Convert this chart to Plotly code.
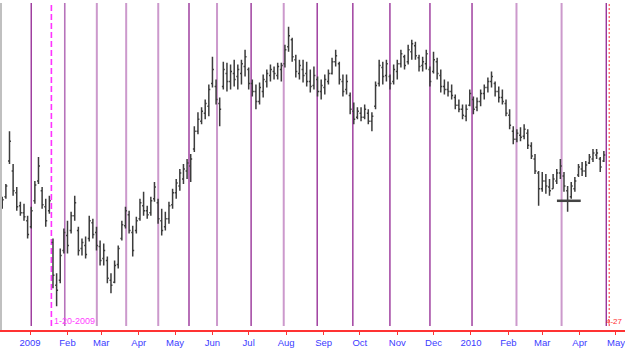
import pandas as pd
import plotly.graph_objects as go

# ---- price bars (every 3 calendar days from the start date) ----
start_date = "2008-12-09"
bar_step = "3D"
high = [134,147,200,167,144,129,127,115,124,150,
        174,144,132,135,92,57,82,102,110,119,
        135,104,92,94,115,112,104,90,87,74,
        57,70,85,110,124,120,105,114,132,139,
        125,134,149,132,122,119,129,142,152,162,
        167,172,177,205,219,224,232,247,275,252,
        234,270,269,267,272,267,272,282,264,252,
        247,249,257,262,267,265,269,269,287,305,
        294,277,272,272,270,262,265,255,252,257,
        262,274,282,270,257,257,239,229,224,224,
        227,222,219,250,272,270,272,257,267,272,
        282,277,287,292,290,277,275,282,265,280,
        274,262,252,250,247,237,232,227,227,242,
        235,234,242,247,254,260,250,245,242,232,
        222,205,202,204,207,202,189,177,160,159,
        157,152,157,162,172,159,145,149,154,167,
        169,170,177,182,182,174,180]
low = [122,132,167,135,120,115,110,92,102,127,
       147,122,104,117,42,24,47,77,77,97,
       110,75,75,72,89,92,80,65,65,47,
       37,47,62,90,102,97,74,97,110,115,
       112,115,129,107,95,100,107,122,132,140,
       147,152,149,179,197,207,212,215,244,227,
       205,242,240,242,245,242,247,255,242,235,
       222,227,234,244,250,252,252,250,264,280,
       270,254,252,249,245,239,242,235,232,237,
       247,257,265,247,235,237,217,207,212,210,
       212,207,200,222,245,247,250,242,247,252,
       264,262,267,272,272,260,260,262,245,258,
       252,239,237,235,232,222,219,212,210,225,
       217,220,225,232,239,244,235,229,227,215,
       202,187,189,190,192,182,172,157,125,139,
       137,135,142,147,152,139,119,132,139,154,
       155,154,167,169,172,159,169]
open_ = [124,134,170,160,138,125,118,110,104,130,
         150,140,124,120,88,45,50,80,95,100,
         115,100,82,85,92,108,98,84,72,70,
         50,48,66,92,105,116,98,100,112,125,
         120,118,132,128,110,104,112,126,138,145,
         152,160,165,182,200,210,218,225,248,245,
         228,245,258,250,258,255,258,265,262,248,
         240,230,240,250,256,260,256,262,268,285,
         292,272,258,262,258,250,246,252,240,244,
         250,258,270,268,250,242,236,220,214,218,
         214,218,210,225,248,264,256,255,250,260,
         268,275,270,280,286,274,266,268,262,260,
         270,256,245,242,240,234,226,222,215,226,
         232,224,230,238,244,250,248,240,234,228,
         216,200,192,196,195,198,185,172,158,142,
         150,144,142,150,158,155,140,134,142,156,
         162,160,168,172,176,172,170]
close = [131,145,190,140,124,118,114,96,120,146,
         165,126,110,130,55,40,75,98,85,115,
         128,80,88,76,110,96,85,70,80,52,
         45,65,82,106,120,100,80,110,128,120,
         116,130,144,112,100,112,125,138,148,158,
         162,168,172,200,212,220,228,242,262,232,
         222,262,250,260,252,262,268,275,248,240,
         230,244,252,258,262,258,265,266,282,296,
         275,260,266,256,250,245,256,240,246,252,
         258,270,276,252,240,250,222,212,220,214,
         222,210,215,246,266,255,268,248,262,268,
         278,266,282,288,276,265,270,278,250,272,
         258,245,242,240,236,226,222,216,222,238,
         222,230,238,244,250,255,240,234,230,218,
         206,192,198,194,202,186,175,160,142,150,
         145,140,152,158,165,145,130,145,150,164,
         160,166,174,178,178,164,176]
dates = pd.date_range(start_date, periods=len(close), freq=bar_step)

# ---- cycle / event lines ----
dark_cycle_dates = ["2009-01-02", "2009-05-12T14:00", "2009-07-03", "2009-08-26T17:00",
                    "2009-09-25T05:00", "2009-10-25T22:00", "2009-11-28T01:00",
                    "2010-01-01T21:00", "2010-04-23"]
medium_cycle_dates = ["2009-01-29T18:00"]
light_cycle_dates = ["2009-02-25T07:00", "2009-03-21T14:00", "2009-04-17T03:00",
                     "2009-06-04T19:00", "2009-07-30", "2010-02-07T16:00", "2010-03-17"]
event_date = "2009-01-18T16:00"
event_label = "1-20-2009"
end_date = "2010-04-25T10:00"
end_label = "4-27"
marker_date = ["2010-03-23"]
marker_price = [130]

# ---- axis ----
tick_dates = ["2009-01-01", "2009-02-01", "2009-03-01", "2009-04-01", "2009-05-01",
              "2009-06-01", "2009-07-01", "2009-08-01", "2009-09-01", "2009-10-01",
              "2009-11-01", "2009-12-01", "2010-01-01", "2010-02-01", "2010-03-01",
              "2010-04-01", "2010-05-01"]
tick_labels = ["2009", "Feb", "Mar", "Apr", "May", "Jun", "Jul", "Aug", "Sep", "Oct",
               "Nov", "Dec", "2010", "Feb", "Mar", "Apr", "May"]
x_range = ["2008-12-08T19:00", "2010-05-08T12:00"]
y_range = [0, 329]

FONT = "Liberation Sans, Arial, sans-serif"

fig = go.Figure()

shapes = []
def vline(d, color, width, dash="solid"):
    shapes.append(dict(type="line", xref="x", yref="y", x0=d, x1=d, y0=4, y1=329,
                       line=dict(color=color, width=width, dash=dash), layer="below"))

for d in light_cycle_dates:
    vline(d, "#cc99cc", 2)
for d in medium_cycle_dates:
    vline(d, "#b773bb", 1.6)
for d in dark_cycle_dates:
    vline(d, "#993399", 1.4)
vline(event_date, "#ff33ff", 1.6, "6px,3px")
vline(end_date, "#ff3333", 1, "2px,2px")

fig.add_trace(go.Ohlc(
    x=dates, open=open_, high=high, low=low, close=close,
    increasing=dict(line=dict(color="#3c3c3c", width=1.5)),
    decreasing=dict(line=dict(color="#3c3c3c", width=1.5)),
    tickwidth=0.4, hoverinfo="skip", showlegend=False,
))

fig.add_trace(go.Scatter(
    x=marker_date, y=marker_price, mode="markers",
    marker=dict(symbol="line-ew", size=17, line=dict(color="#444444", width=2.5)),
    hoverinfo="skip", showlegend=False,
))

annotations = [
    dict(x=event_date, y=9, xref="x", yref="y", text=event_label, showarrow=False,
         xanchor="left", yanchor="middle", xshift=1,
         font=dict(family=FONT, size=9, color="#ff40ff")),
    dict(x=1, y=9, xref="paper", yref="y", text=end_label, showarrow=False,
         xanchor="right", yanchor="middle", xshift=0,
         font=dict(family=FONT, size=8, color="#ff3030")),
]

fig.update_layout(
    width=625, height=348,
    margin=dict(l=2, r=0, t=3, b=16),
    paper_bgcolor="white", plot_bgcolor="white",
    shapes=shapes, annotations=annotations,
    showlegend=False,
    xaxis=dict(
        type="date", range=x_range, rangeslider=dict(visible=False),
        tickmode="array", tickvals=tick_dates, ticktext=tick_labels,
        showgrid=False, zeroline=False,
        showline=True, linecolor="#ff3333", linewidth=1.5,
        ticks="outside", ticklen=3, tickcolor="#ff3333", tickwidth=1,
        ticklabeloverflow="allow",
        tickfont=dict(family=FONT, size=9.5, color="#3b3bff"),
        fixedrange=True,
    ),
    yaxis=dict(
        range=y_range, showgrid=False, zeroline=False, showticklabels=False,
        showline=True, linecolor="#c0c0c0", linewidth=2, mirror=False,
        ticks="", fixedrange=True,
    ),
)

fig.write_html("out.html", config={"displayModeBar": False})
